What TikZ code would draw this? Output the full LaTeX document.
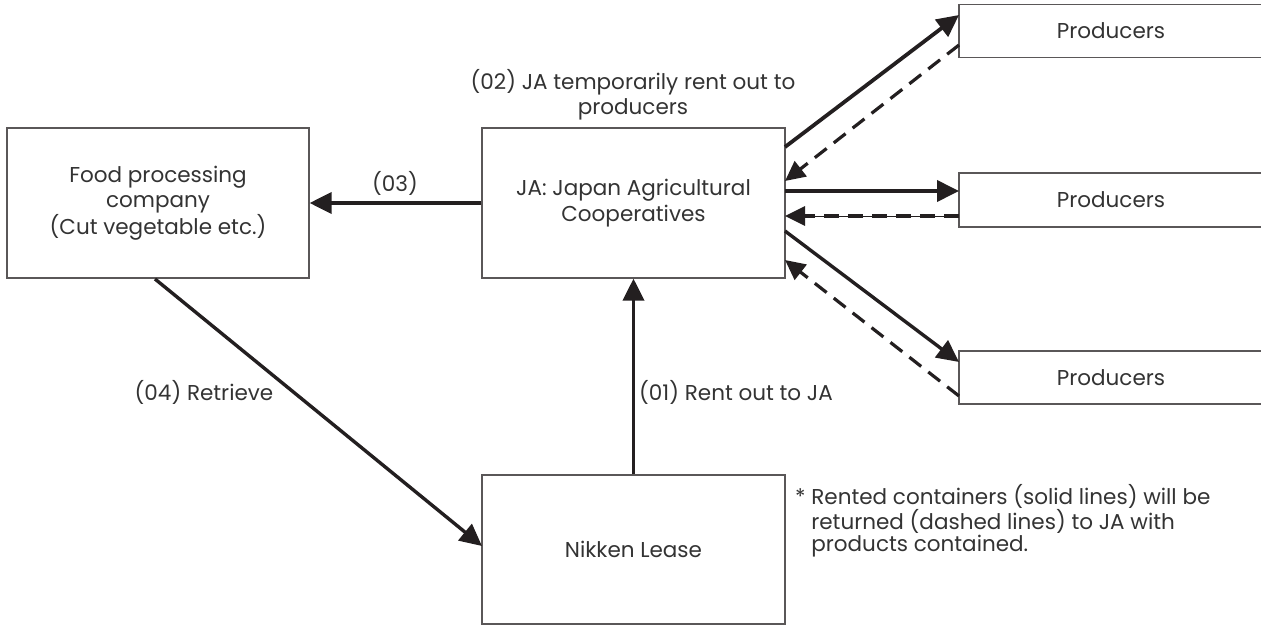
\documentclass[tikz,border=0pt]{standalone}
\usepackage{fontspec}
\setmainfont{Poppins}
\usetikzlibrary{arrows.meta}
\definecolor{ink}{HTML}{231F20}
\definecolor{txt}{HTML}{333333}
\tikzset{
  box/.style={draw=ink!75, line width=1.2pt, fill=white, inner sep=0pt, font=\fontsize{21.5}{25.5}\selectfont\color{txt}, align=center},
  solidarrow/.style={ink, line width=3.8pt, -{Triangle[length=22pt,width=21pt]}},
  dasharrow/.style={ink, line width=3.2pt, dash pattern=on 15pt off 9pt, -{Triangle[length=20pt,width=19pt]}},
  lbl/.style={font=\fontsize{21.5}{25.5}\selectfont\color{txt}, align=center, inner sep=0pt}
}
\begin{document}
\begin{tikzpicture}[x=1pt,y=-1pt]
\useasboundingbox (0,0) rectangle (1261,626);
% boxes
\node[box, minimum width=302pt, minimum height=150pt] (food) at (158,203) {Food processing\\company\\(Cut vegetable etc.)};
\node[box, minimum width=303pt, minimum height=150pt] (ja) at (633.5,203) {JA: Japan Agricultural\\Cooperatives};
\node[box, minimum width=303pt, minimum height=149pt] (nik) at (633.5,549.5) {Nikken Lease};
\node[box, minimum width=320pt, minimum height=53pt, text width=300pt] (p1) at (1119,31) {\hspace*{-16pt}Producers};
\node[box, minimum width=320pt, minimum height=54pt, text width=300pt] (p2) at (1119,200) {\hspace*{-16pt}Producers};
\node[box, minimum width=320pt, minimum height=53pt, text width=300pt] (p3) at (1119,377.5) {\hspace*{-16pt}Producers};
% coordinates
\coordinate (ja1s) at (785,147);
\coordinate (ja1d) at (785,181);
\coordinate (ja2s) at (785,191);
\coordinate (ja2d) at (785,216);
\coordinate (ja3s) at (785,231);
\coordinate (ja3d) at (785,260);
\coordinate (p1s) at (959,15);
\coordinate (p1d) at (959,45);
\coordinate (p2s) at (959,191);
\coordinate (p2d) at (959,216);
\coordinate (p3s) at (959,362);
\coordinate (p3d) at (959,396);
\coordinate (foodb) at (155,279);
\coordinate (nikl) at (482,546);
% arrows
\draw[solidarrow] (ja.west) -- (food.east);
\draw[solidarrow] (nik.north) -- (ja.south);
\draw[solidarrow, line width=3.4pt] (foodb) -- (nikl);
\draw[solidarrow] (ja1s) -- (p1s);
\draw[solidarrow] (ja2s) -- (p2s);
\draw[solidarrow, line width=3.4pt] (ja3s) -- (p3s);
\draw[dasharrow] (p1d) -- (ja1d);
\draw[ink, line width=1pt] (p2d) -- ([xshift=12pt]ja2d);
\draw[dasharrow] (p2d) -- (ja2d);
\draw[dasharrow] (p3d) -- (ja3d);
% labels
\node[lbl] (l03) at (395,183) {(03)};
\node[lbl] (l02) at (633,95) {(02) JA temporarily rent out to\\producers};
\node[lbl, anchor=west] (l01) at (639,392) {(01) Rent out to JA};
\node[lbl] (l04) at (204,392) {(04) Retrieve};
\node[lbl, anchor=north west, align=left, font=\fontsize{21.5}{22}\selectfont\color{txt}] (note) at (795,484) {* Rented containers (solid lines) will be\\\hphantom{* }returned (dashed lines) to JA with\\\hphantom{* }products contained.};
\end{tikzpicture}
\end{document}
